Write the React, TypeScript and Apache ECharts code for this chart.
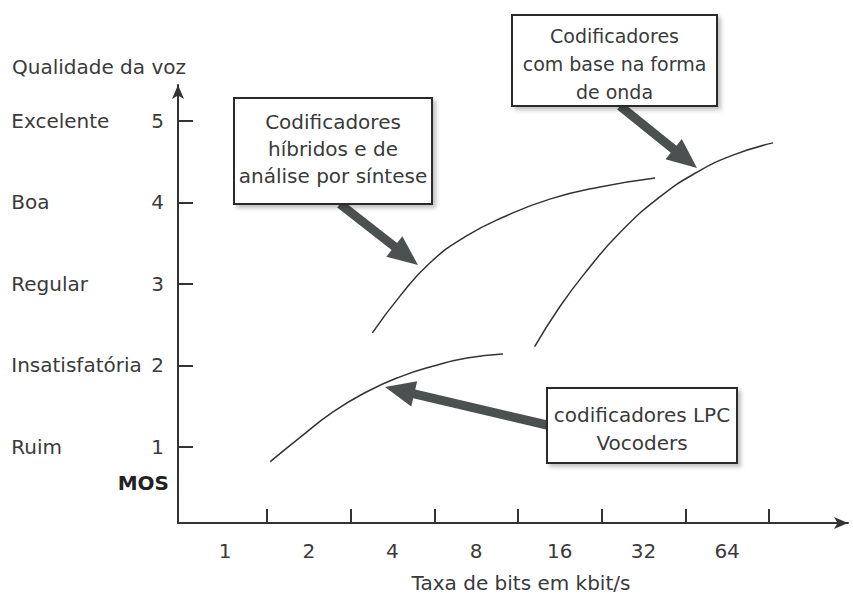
import React, { useEffect, useRef } from "react";
import * as echarts from "echarts";

// Bit-rate categories (kbit/s), drawn between tick marks
const bitRates = ["1", "2", "4", "8", "16", "32", "64"];
// MOS scale levels
const qualityLevels = ["Ruim", "Insatisfatória", "Regular", "Boa", "Excelente"];
const mosValues = [1, 2, 3, 4, 5];

// Curves: [position on bit-rate axis (category units), MOS]
const lpcCurve = [
  [1.04, 0.82], [1.4, 1.12], [1.79, 1.43], [2.2, 1.68], [2.59, 1.86],
  [2.98, 1.99], [3.39, 2.09], [3.82, 2.14],
];
const hybridCurve = [
  [2.26, 2.4], [2.59, 2.85], [2.95, 3.26], [3.37, 3.58], [3.85, 3.83],
  [4.38, 4.04], [4.98, 4.19], [5.64, 4.3],
];
const waveformCurve = [
  [4.2, 2.23], [4.5, 2.72], [4.83, 3.17], [5.22, 3.63], [5.7, 4.07],
  [6.14, 4.37], [6.57, 4.58], [7.05, 4.73],
];

const FONT = "DejaVu Sans";
const TXT = "#3a3a3a";
const AX = "#333";

function arrowPoints(sx: number, sy: number, tx: number, ty: number) {
  const w = 9, hl = 30, hw = 26;
  const dx = tx - sx, dy = ty - sy;
  const L = Math.hypot(dx, dy);
  const ux = dx / L, uy = dy / L;
  const nx = -uy, ny = ux;
  const bx = tx - ux * hl, by = ty - uy * hl;
  return [
    [sx + nx * w / 2, sy + ny * w / 2],
    [bx + nx * w / 2, by + ny * w / 2],
    [bx + nx * hw / 2, by + ny * hw / 2],
    [tx, ty],
    [bx - nx * hw / 2, by - ny * hw / 2],
    [bx - nx * w / 2, by - ny * w / 2],
    [sx - nx * w / 2, sy - ny * w / 2],
  ];
}

function box(x: number, y: number, w: number, h: number, lines: string[], lineYs: number[], fontSize = 20) {
  const children: any[] = [
    {
      type: "rect",
      shape: { x, y, width: w, height: h },
      style: {
        fill: "#fff", stroke: "#2a2a2a", lineWidth: 2,
        shadowBlur: 4, shadowOffsetX: 3, shadowOffsetY: 3, shadowColor: "rgba(0,0,0,0.25)",
      },
      z: 10,
    },
  ];
  lines.forEach((t, i) => {
    children.push({
      type: "text",
      z: 11,
      style: {
        text: t, x: x + w / 2, y: lineYs[i],
        textAlign: "center", textVerticalAlign: "middle",
        align: "center", verticalAlign: "middle",
        fontFamily: FONT, fontSize, fill: TXT,
      },
    });
  });
  return { type: "group", children };
}

function arrow(sx: number, sy: number, tx: number, ty: number) {
  return {
    type: "polygon",
    z: 9,
    shape: { points: arrowPoints(sx, sy, tx, ty) },
    style: { fill: "#4b5050" },
  };
}

export default function App() {
  const ref = useRef<HTMLDivElement>(null);
  useEffect(() => {
    if (!ref.current) return;
    const chart = echarts.init(ref.current, null, { renderer: "svg" });
    const lineSeries = (data: number[][]) => ({
      type: "line",
      data,
      smooth: 0.5,
      showSymbol: false,
      symbol: "none",
      lineStyle: { color: "#333", width: 1.5 },
      z: 5,
    });
    chart.setOption({
      animation: false,
      backgroundColor: "#fff",
      grid: { left: 178, right: 5, top: 85, bottom: 72, outerBoundsMode: "none" },
      xAxis: {
        type: "value",
        min: -0.063,
        max: 7.945,
        name: "Taxa de bits em kbit/s",
        nameLocation: "middle",
        nameGap: 50,
        nameTextStyle: { fontFamily: FONT, fontSize: 20, color: TXT, padding: [0, 0, 0, 16] },
        splitLine: { show: false },
        axisLine: {
          onZero: false,
          symbol: ["none", "arrow"],
          symbolSize: [9, 14],
          lineStyle: { color: AX, width: 2 },
        },
        axisTick: {
          show: true,
          inside: true,
          length: 14,
          customValues: [1, 2, 3, 4, 5, 6, 7],
          lineStyle: { color: AX, width: 2 },
        },
        axisLabel: {
          customValues: bitRates.map((_, i) => i + 0.5),
          formatter: (v: number) => bitRates[Math.round(v - 0.5)] ?? "",
          margin: 18,
          fontFamily: FONT,
          fontSize: 20,
          color: TXT,
        },
      },
      yAxis: {
        type: "value",
        min: 0.067,
        max: 5.44,
        splitLine: { show: false },
        axisLine: {
          onZero: false,
          symbol: ["none", "arrow"],
          symbolSize: [9, 14],
          lineStyle: { color: AX, width: 2 },
        },
        axisTick: {
          show: true,
          inside: true,
          length: 15,
          customValues: mosValues,
          lineStyle: { color: AX, width: 2 },
        },
        axisLabel: {
          customValues: mosValues,
          margin: 14,
          formatter: (v: number) => `{n|${qualityLevels[Math.round(v) - 1]}}{v|${Math.round(v)}}`,
          rich: {
            n: { width: 140, align: "left", fontFamily: FONT, fontSize: 20, color: TXT },
            v: { fontFamily: FONT, fontSize: 20, color: TXT },
          },
        },
      },
      series: [lineSeries(lpcCurve), lineSeries(hybridCurve), lineSeries(waveformCurve)],
      graphic: [
        {
          type: "text",
          style: {
            text: "Qualidade da voz", x: 12, y: 67,
            textAlign: "left", textVerticalAlign: "middle",
            align: "left", verticalAlign: "middle",
            fontFamily: FONT, fontSize: 20, fill: TXT,
          },
        },
        {
          type: "text",
          style: {
            text: "MOS", x: 169, y: 483,
            textAlign: "right", textVerticalAlign: "middle",
            align: "right", verticalAlign: "middle",
            fontFamily: FONT, fontSize: 20, fontWeight: "bold", fill: "#222",
          },
        },
        arrow(340, 204, 418, 265),
        arrow(620, 106, 697, 168),
        arrow(547, 425, 385, 387),
        box(234, 98, 198, 106, ["Codificadores", "híbridos e de", "análise por síntese"], [122, 149, 176]),
        box(512, 15, 205, 91, ["Codificadores", "com base na forma", "de onda"], [36, 64, 92], 19),
        box(547, 388, 190, 75, ["codificadores LPC", "Vocoders"], [415, 443]),
      ],
    });
    return () => chart.dispose();
  }, []);
  return (
    <div
      ref={ref}
      style={{ position: "absolute", left: 0, top: 0, width: 853, height: 595 }}
    />
  );
}
